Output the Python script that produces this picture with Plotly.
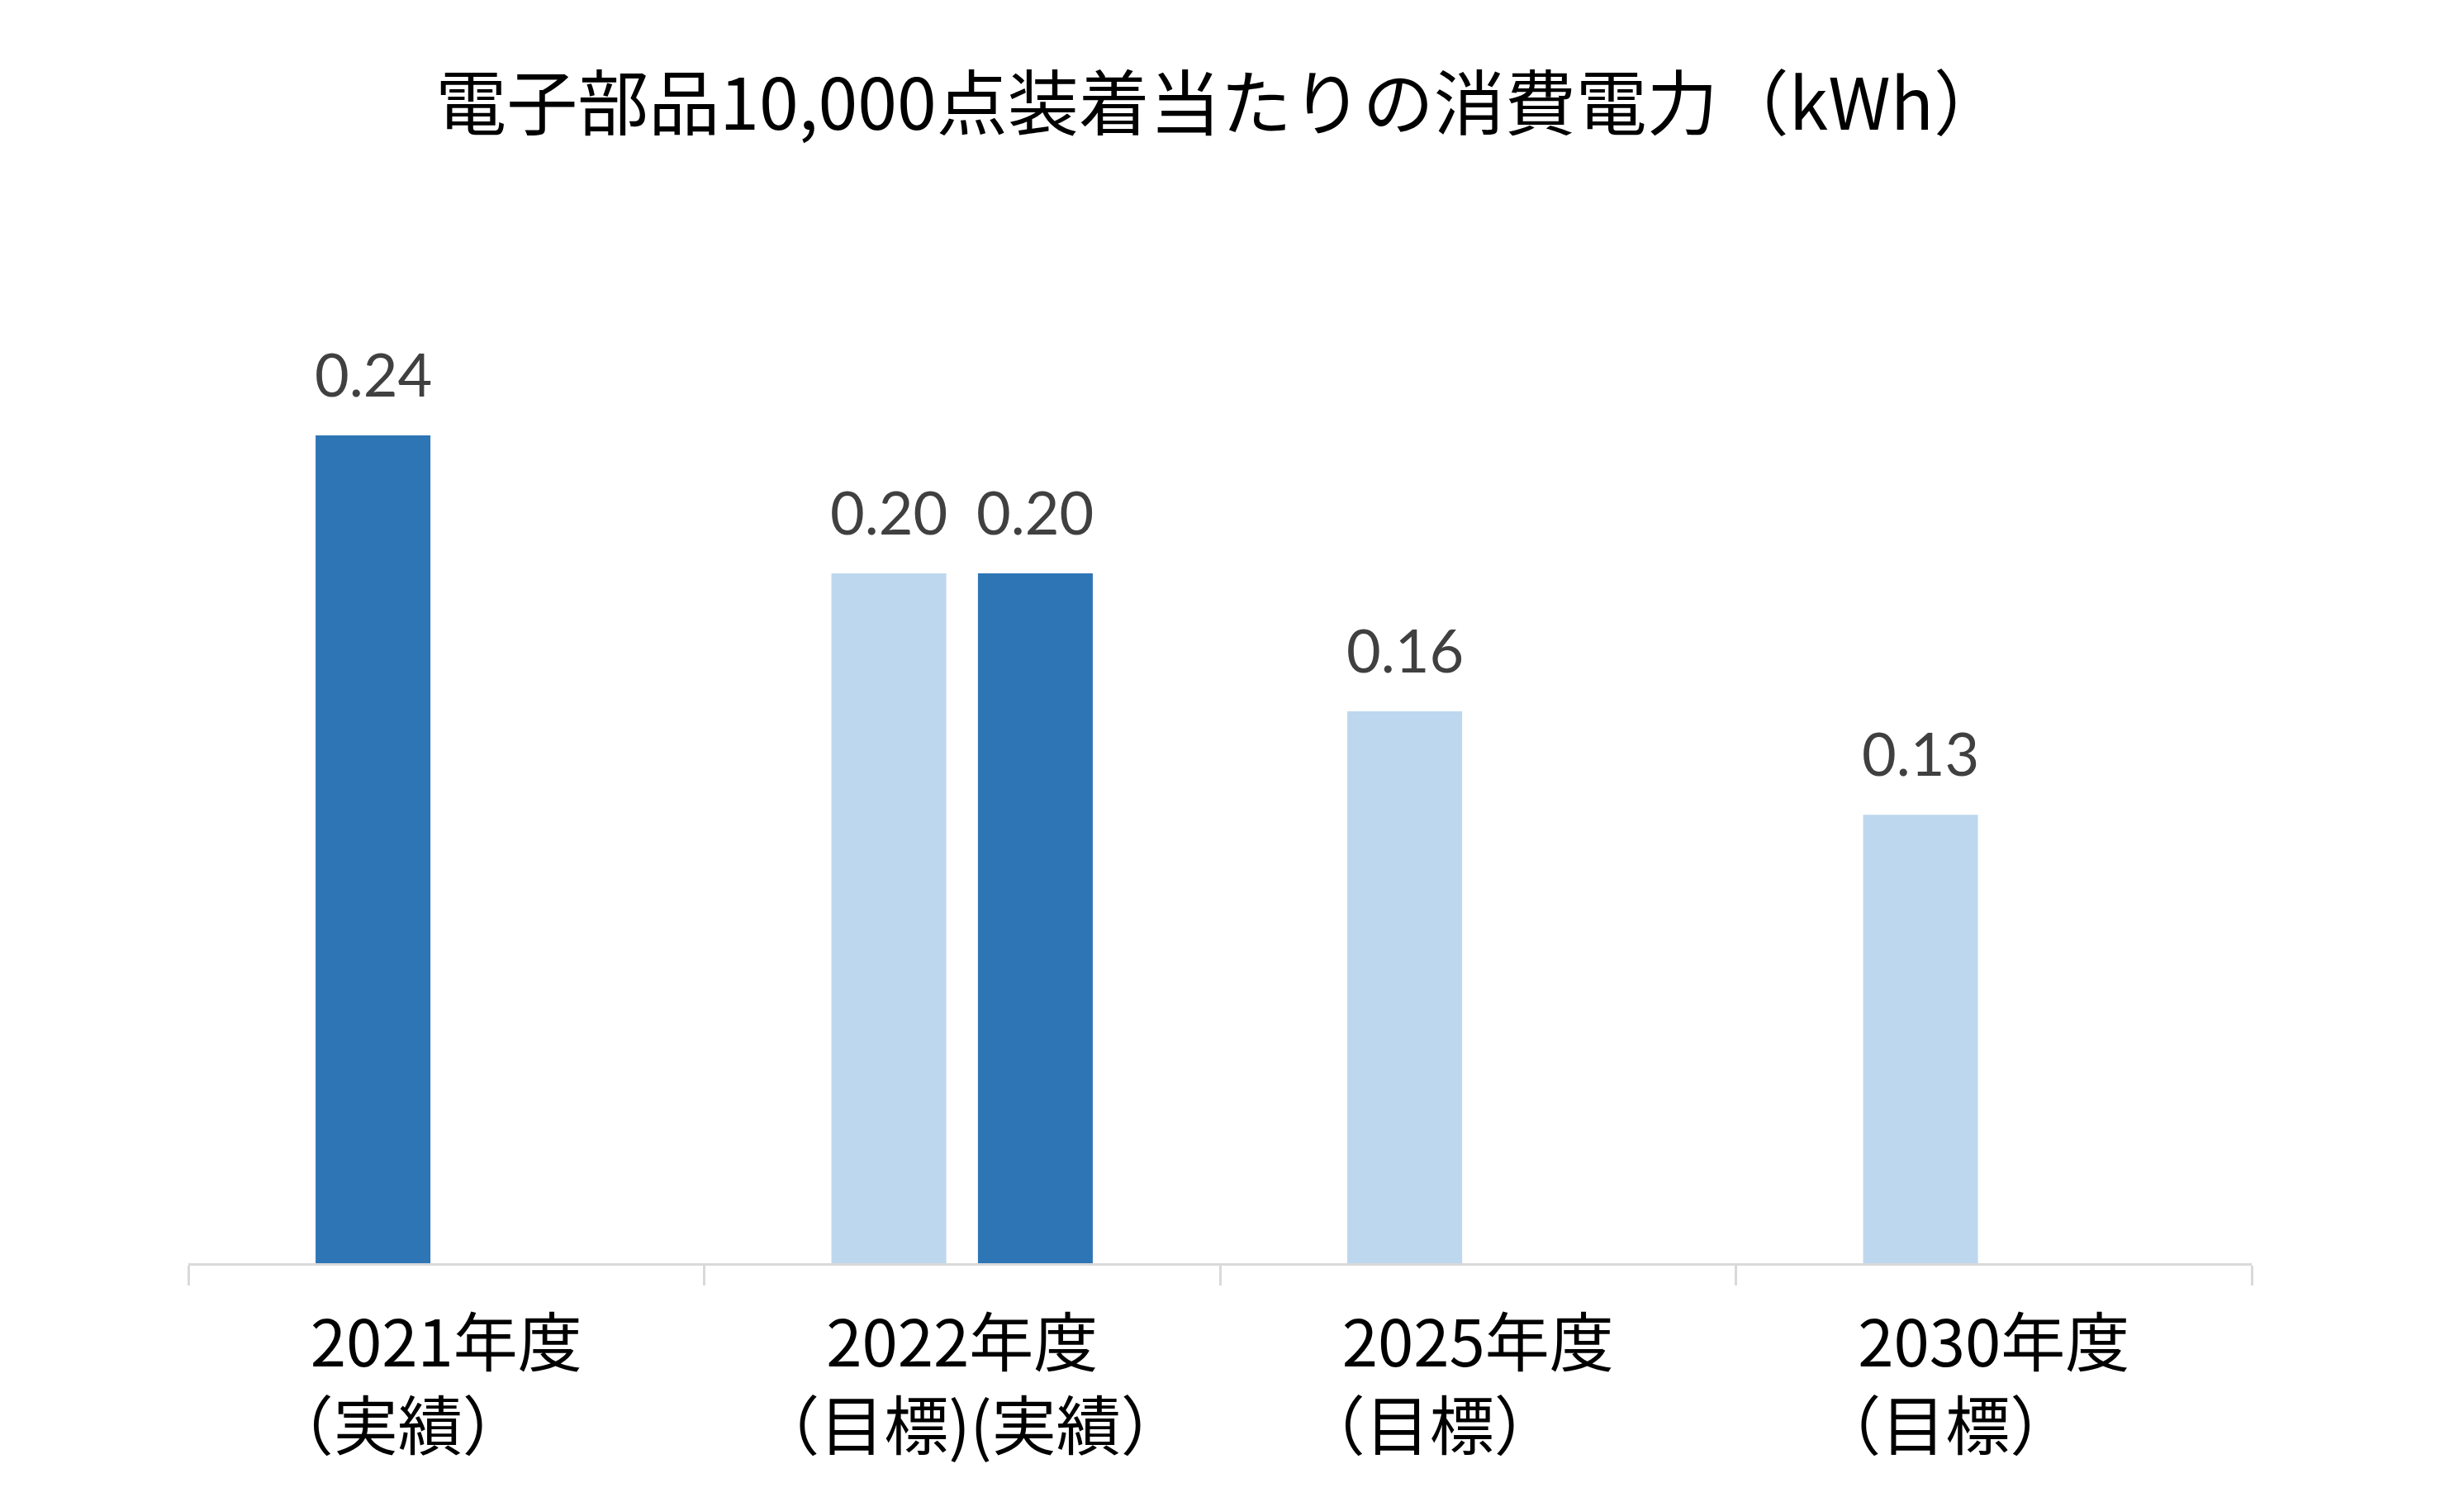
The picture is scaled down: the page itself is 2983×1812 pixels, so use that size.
import plotly.graph_objects as go

title_text = "電子部品10,000点装着当たりの消費電力（kWh）"
years = ["2021年度", "2022年度", "2025年度", "2030年度"]
notes = ["（実績）", "（目標)(実績）", "（目標）", "（目標）"]
target = [None, 0.20, 0.16, 0.13]   # 目標
actual = [0.24, 0.20, None, None]   # 実績

DARK = "#2E75B6"
LIGHT = "#BDD7EE"
CJK = "Noto Sans CJK JP"
NUM = "Lato"

BAR_W = 0.2226
SLOT = 0.142
# invisible padding that reproduces the off-centre second label line
NOTE_PAD_LEFT = ["", "\u2005", "", ""]
NOTE_PAD_RIGHT = ["\u3000\u3000", "", "\u3000\u3000", "\u3000\u3000"]

idx = list(range(len(years)))
tick_text = [f"{y}<br>{pl}{n}{pr}" for y, n, pl, pr in
             zip(years, notes, NOTE_PAD_LEFT, NOTE_PAD_RIGHT)]

# slot centres: target always left; actual left if no target, otherwise right
t_center = [i - SLOT for i in idx]
a_center = [i - SLOT if target[i] is None else i + SLOT for i in idx]

fig = go.Figure()
fig.add_trace(go.Bar(
    x=years, y=target, name="目標",
    marker=dict(color=LIGHT, line=dict(width=0)),
    width=[BAR_W] * len(idx),
    offset=[c - i - BAR_W / 2 for c, i in zip(t_center, idx)],
    hoverinfo="skip",
))
fig.add_trace(go.Bar(
    x=years, y=actual, name="実績",
    marker=dict(color=DARK, line=dict(width=0)),
    width=[BAR_W] * len(idx),
    offset=[c - i - BAR_W / 2 for c, i in zip(a_center, idx)],
    hoverinfo="skip",
))

annotations = []
for series, centers in ((target, t_center), (actual, a_center)):
    for v, c in zip(series, centers):
        if v is None:
            continue
        annotations.append(dict(
            x=c, y=v, xref="x", yref="y", text=f"{v:.2f}",
            showarrow=False, yanchor="bottom", xanchor="center", yshift=30,
            font=dict(family=NUM, size=72, color="#404040"),
        ))

fig.update_layout(
    width=2983, height=1812,
    paper_bgcolor="white", plot_bgcolor="white",
    barmode="overlay",
    showlegend=False,
    margin=dict(l=220, r=265, t=352, b=291),
    title=dict(
        text=title_text, x=0.4925, xanchor="center",
        y=1 - 119 / 1812, yref="container", yanchor="middle",
        font=dict(family=CJK, size=86, color="black"),
    ),
    xaxis=dict(
        type="category", range=[-0.5, 3.5],
        tickmode="array", tickvals=years, ticktext=tick_text,
        showline=True, linecolor="#D9D9D9", linewidth=3,
        ticks="outside", tickson="boundaries", ticklen=24, tickwidth=3,
        tickcolor="#D9D9D9", showgrid=False, zeroline=False,
        tickfont=dict(family=CJK, size=78, color="black"),
        ticklabelstandoff=28,
    ),
    yaxis=dict(range=[0, 0.28], visible=False, showgrid=False, zeroline=False),
    annotations=annotations,
)

fig.write_html("out.html")
